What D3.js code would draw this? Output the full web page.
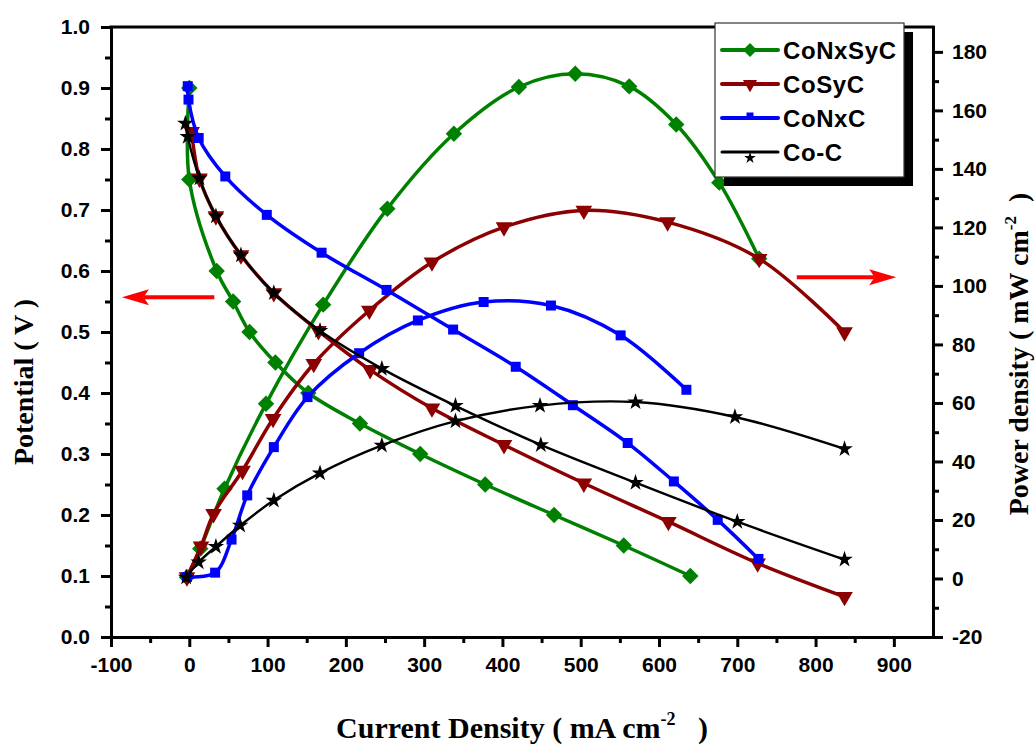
<!DOCTYPE html>
<html>
<head>
<meta charset="utf-8">
<script src="https://cdn.jsdelivr.net/npm/d3@7"></script>
<style>
  body { margin: 0; background: #fff; }
  svg { display: block; }
</style>
</head>
<body>
<svg id="chart" width="1035" height="747"></svg>
<script>
// ---- Data: polarization (V vs mA cm-2) and power density (mW cm-2 vs mA cm-2) ----
const seriesNames = ["CoNxSyC", "CoSyC", "CoNxC", "Co-C"];

const conxsycPolI = [0, 0, 35, 56, 77, 110, 152, 218, 295, 378, 466, 555, 640];
const conxsycPolV = [0.90, 0.75, 0.60, 0.55, 0.50, 0.45, 0.40, 0.35, 0.30, 0.25, 0.20, 0.15, 0.10];
const conxsycPowI = [-3, 14, 45, 98, 171, 253, 338, 421, 493, 562, 622, 677, 728];
const conxsycPowP = [0.4, 10.2, 30.7, 59.7, 93.6, 126.4, 152, 168, 172.5, 168.2, 155.2, 135.3, 109.3];

const cosycPolI = [3, 13, 34, 66, 108, 165, 231, 310, 402, 504, 612, 726, 837];
const cosycPolV = [0.828, 0.752, 0.690, 0.626, 0.564, 0.502, 0.438, 0.375, 0.315, 0.252, 0.189, 0.121, 0.066];
const cosycPowI = [-3, 15, 31, 68, 107, 159, 230, 310, 402, 504, 611, 728, 837];
const cosycPowP = [0.5, 11, 22.1, 36.9, 54.6, 73.4, 91.6, 108.1, 120.1, 125.8, 121.8, 109.3, 84.2];

const conxcPolI = [-2, -1, 12, 46, 99, 169, 252, 337, 417, 490, 560, 619, 675, 727];
const conxcPolV = [0.903, 0.881, 0.818, 0.755, 0.692, 0.630, 0.569, 0.504, 0.443, 0.380, 0.318, 0.255, 0.192, 0.128];
const conxcPowI = [-3, 33, 54, 74, 108, 151, 217, 292, 376, 462, 551, 635];
const conxcPowP = [0.5, 2, 13.3, 28.4, 44.9, 62, 77, 88.2, 94.5, 93.3, 83.1, 64.5];

const cocPolI = [-5, -2, 13, 34, 66, 108, 167, 246, 340, 449, 570, 700, 837];
const cocPolV = [0.842, 0.820, 0.752, 0.690, 0.626, 0.564, 0.502, 0.440, 0.379, 0.315, 0.253, 0.189, 0.127];
const cocPowI = [-4, 12, 34, 65, 108, 167, 246, 340, 448, 570, 697, 837];
const cocPowP = [0.4, 5.6, 10.9, 18.1, 26.7, 36, 45.5, 53.8, 59.1, 60.3, 55.2, 44.3];

// ---- Axis ticks ----
const xTicks = [-100, 0, 100, 200, 300, 400, 500, 600, 700, 800, 900];
const xMinorTicks = [-50, 50, 150, 250, 350, 450, 550, 650, 750, 850];
const leftTicks = [0, 0.1, 0.2, 0.3, 0.4, 0.5, 0.6, 0.7, 0.8, 0.9, 1.0];
const leftMinorTicks = [0.05, 0.15, 0.25, 0.35, 0.45, 0.55, 0.65, 0.75, 0.85, 0.95];
const rightTicks = [-20, 0, 20, 40, 60, 80, 100, 120, 140, 160, 180];
const rightMinorTicks = [-10, 10, 30, 50, 70, 90, 110, 130, 150, 170];

// Direction arrows: which axis each curve family belongs to
const leftArrowI = [32, -86];
const leftArrowV = 0.557;
const rightArrowI = [776, 903];
const rightArrowP = 103;

// ---- Styling ----
const colors = { "CoNxSyC": "#008000", "CoSyC": "#8b0000", "CoNxC": "#0000ff", "Co-C": "#000000" };
const widths = { "CoNxSyC": 3.5, "CoSyC": 3.5, "CoNxC": 3.5, "Co-C": 2.4 };
const sansFont = "'Liberation Sans', Arial, sans-serif";
const serifFont = "'Liberation Serif', 'Times New Roman', serif";

const svg = d3.select("#chart");

const x = d3.scaleLinear().domain([-100, 950]).range([111, 933]);
const yL = d3.scaleLinear().domain([0, 1]).range([637, 27]);
const yR = d3.scaleLinear().domain([-20, 188.5]).range([637, 27]);

const zip = (a, b) => a.map((v, i) => [v, b[i]]);

const series = [
  { name: "CoNxSyC", marker: "diamond", pol: zip(conxsycPolI, conxsycPolV), pow: zip(conxsycPowI, conxsycPowP) },
  { name: "CoSyC",   marker: "triDown", pol: zip(cosycPolI, cosycPolV),     pow: zip(cosycPowI, cosycPowP) },
  { name: "CoNxC",   marker: "square",  pol: zip(conxcPolI, conxcPolV),     pow: zip(conxcPowI, conxcPowP) },
  { name: "Co-C",    marker: "star",    pol: zip(cocPolI, cocPolV),         pow: zip(cocPowI, cocPowP) }
];

function markerD(kind, scale) {
  const k = scale || 1;
  switch (kind) {
    case "diamond": return d3.symbol(d3.symbolSquare, 135 * k * k)();
    case "triDown": return d3.symbol(d3.symbolTriangle, 120 * k * k)();
    case "square":  return d3.symbol(d3.symbolSquare, 100 * k * k)();
    case "star":    return d3.symbol(d3.symbolStar, 85 * k * k)();
  }
}
function markerRot(kind) {
  if (kind === "diamond") return 45;
  if (kind === "triDown") return 180;
  return 0;
}

// plain hyphen for negative tick labels
const intFmt = d => String(d);

// ---- Axes ----
function styleAxis(g) {
  g.select(".domain").attr("stroke", "#000").attr("stroke-width", 3).attr("stroke-linecap", "square");
  g.selectAll(".tick line").attr("stroke", "#000").attr("stroke-width", 3);
  g.selectAll(".tick text").attr("fill", "#000")
    .attr("font-family", sansFont).attr("font-weight", "bold").attr("font-size", 21);
}

// minor ticks first so major axes sit on top
svg.append("g").attr("transform", `translate(0,${yL.range()[0]})`)
  .call(d3.axisBottom(x).tickValues(xMinorTicks).tickSize(6).tickSizeOuter(0).tickFormat(""))
  .call(styleAxis);
svg.append("g").attr("transform", `translate(${x.range()[0]},0)`)
  .call(d3.axisLeft(yL).tickValues(leftMinorTicks).tickSize(6).tickSizeOuter(0).tickFormat(""))
  .call(styleAxis);
svg.append("g").attr("transform", `translate(${x.range()[1]},0)`)
  .call(d3.axisRight(yR).tickValues(rightMinorTicks).tickSize(6).tickSizeOuter(0).tickFormat(""))
  .call(styleAxis);

svg.append("g").attr("transform", `translate(0,${yL.range()[0]})`)
  .call(d3.axisBottom(x).tickValues(xTicks).tickSize(10).tickPadding(10).tickSizeOuter(0).tickFormat(intFmt))
  .call(styleAxis);
svg.append("g").attr("transform", `translate(${x.range()[0]},0)`)
  .call(d3.axisLeft(yL).tickValues(leftTicks).tickSize(10).tickPadding(11).tickSizeOuter(0).tickFormat(d3.format(".1f")))
  .call(styleAxis);
svg.append("g").attr("transform", `translate(${x.range()[1]},0)`)
  .call(d3.axisRight(yR).tickValues(rightTicks).tickSize(10).tickPadding(9).tickSizeOuter(0).tickFormat(intFmt))
  .call(styleAxis);

// top frame edge
svg.append("line")
  .attr("x1", x.range()[0]).attr("x2", x.range()[1])
  .attr("y1", yL(1)).attr("y2", yL(1))
  .attr("stroke", "#000").attr("stroke-width", 3).attr("stroke-linecap", "square");

// ---- Curves ----
const plot = svg.append("g");
const lineL = d3.line().x(d => x(d[0])).y(d => yL(d[1])).curve(d3.curveCatmullRom.alpha(0.5));
const lineR = d3.line().x(d => x(d[0])).y(d => yR(d[1])).curve(d3.curveCatmullRom.alpha(0.5));

series.forEach(s => {
  const g = plot.append("g");
  const c = colors[s.name];
  g.append("path").attr("d", lineL(s.pol)).attr("fill", "none").attr("stroke", c)
    .attr("stroke-width", widths[s.name]).attr("stroke-linejoin", "round");
  g.append("path").attr("d", lineR(s.pow)).attr("fill", "none").attr("stroke", c)
    .attr("stroke-width", widths[s.name]).attr("stroke-linejoin", "round");
  const d = markerD(s.marker);
  const r = markerRot(s.marker);
  g.selectAll(".mp").data(s.pol).join("path")
    .attr("d", d).attr("fill", c)
    .attr("transform", p => `translate(${x(p[0])},${yL(p[1])}) rotate(${r})`);
  g.selectAll(".mw").data(s.pow).join("path")
    .attr("d", d).attr("fill", c)
    .attr("transform", p => `translate(${x(p[0])},${yR(p[1])}) rotate(${r})`);
});

// ---- Red direction arrows ----
function arrow(x0, x1, yy) {
  const dir = Math.sign(x1 - x0);
  const headLen = 27, headHalf = 8;
  const g = svg.append("g");
  g.append("line").attr("x1", x0).attr("x2", x1 - dir * headLen * 0.8).attr("y1", yy).attr("y2", yy)
    .attr("stroke", "#ff0000").attr("stroke-width", 4);
  g.append("path")
    .attr("d", `M${x1},${yy}L${x1 - dir * headLen},${yy - headHalf}L${x1 - dir * headLen * 0.8},${yy}L${x1 - dir * headLen},${yy + headHalf}Z`)
    .attr("fill", "#ff0000");
}
arrow(x(leftArrowI[0]), x(leftArrowI[1]), yL(leftArrowV));
arrow(x(rightArrowI[0]), x(rightArrowI[1]), yR(rightArrowP));

// ---- Legend ----
const lg = svg.append("g").attr("transform", "translate(715,23)");
lg.append("rect").attr("x", 9).attr("y", 9).attr("width", 189).attr("height", 154).attr("fill", "#000");
lg.append("rect").attr("x", 0).attr("y", 0).attr("width", 189).attr("height", 154)
  .attr("fill", "#fff").attr("stroke", "#333").attr("stroke-width", 1.2);
series.forEach((s, i) => {
  const cy = 27 + i * 34;
  const c = colors[s.name];
  lg.append("line").attr("x1", 7).attr("x2", 63).attr("y1", cy).attr("y2", cy)
    .attr("stroke", c).attr("stroke-width", s.name === "Co-C" ? 3 : 4).attr("stroke-linecap", "round");
  const ly = s.marker === "star" ? cy + 6 : (s.marker === "square" ? cy - 2 : cy);
  const ms = s.marker === "square" ? 0.7 : (s.marker === "star" ? 0.7 : 0.85);
  lg.append("path").attr("d", markerD(s.marker, ms)).attr("fill", c)
    .attr("transform", `translate(35,${ly}) rotate(${markerRot(s.marker)})`);
  lg.append("text").attr("x", 68).attr("y", cy + 8.5)
    .attr("font-family", sansFont).attr("font-weight", "bold").attr("font-size", 24)
    .attr("letter-spacing", 0.6).attr("fill", "#000").text(s.name);
});

// ---- Axis titles ----
const bottomTitle = svg.append("text")
  .attr("x", (x.range()[0] + x.range()[1]) / 2).attr("y", 738)
  .attr("text-anchor", "middle").attr("font-family", serifFont)
  .attr("font-weight", "bold").attr("font-size", 30).attr("fill", "#000")
  .style("white-space", "pre");
bottomTitle.append("tspan").text("Current Density ( mA cm");
bottomTitle.append("tspan").attr("dy", -13).attr("font-size", 18).text("-2");
bottomTitle.append("tspan").attr("dy", 13).text("   )");

svg.append("text")
  .attr("transform", `translate(23,${(yL.range()[0] + yL.range()[1]) / 2 + 50}) rotate(-90)`)
  .attr("text-anchor", "middle").attr("dy", "0.35em")
  .attr("font-family", serifFont).attr("font-weight", "bold").attr("font-size", 28).attr("fill", "#000")
  .style("white-space", "pre")
  .text("Potential ( V )");

const rightTitle = svg.append("text")
  .attr("transform", `translate(1018,${(yR.range()[0] + yR.range()[1]) / 2 + 22}) rotate(-90)`)
  .attr("text-anchor", "middle").attr("dy", "0.35em")
  .attr("font-family", serifFont).attr("font-weight", "bold").attr("font-size", 28).attr("fill", "#000")
  .style("white-space", "pre");
rightTitle.append("tspan").text("Power density ( mW cm");
rightTitle.append("tspan").attr("dy", -12).attr("font-size", 17).text("-2");
rightTitle.append("tspan").attr("dy", 12).text("  )");
</script>
</body>
</html>
